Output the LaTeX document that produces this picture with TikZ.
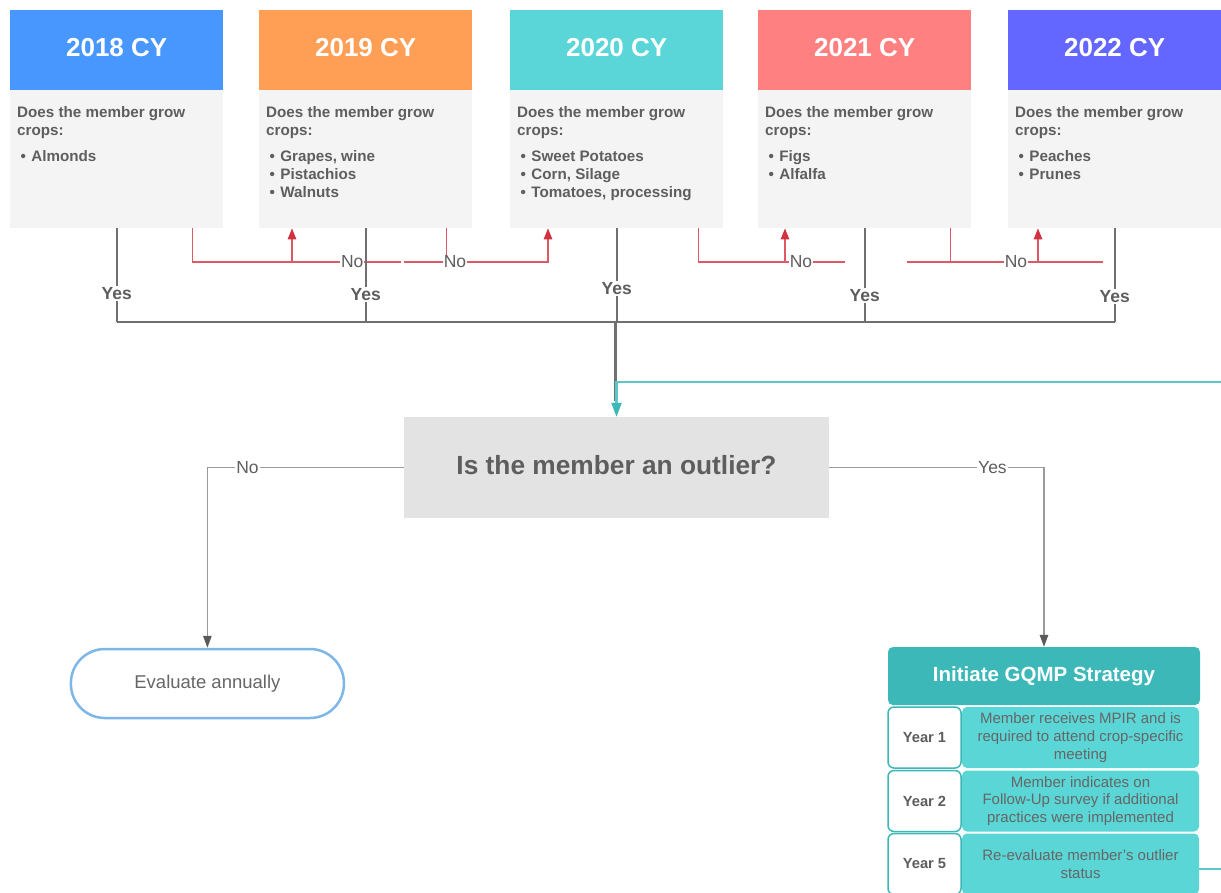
\documentclass[tikz,border=0pt]{standalone}
\usepackage{fontspec}
\setmainfont{Liberation Sans}
\usetikzlibrary{arrows.meta,calc}

\definecolor{txt}{HTML}{5E5E5E}
\definecolor{desctxt}{HTML}{666666}
\definecolor{c18}{HTML}{4797FF}
\definecolor{c19}{HTML}{FF9E55}
\definecolor{c20}{HTML}{5AD6D8}
\definecolor{c21}{HTML}{FF8080}
\definecolor{c22}{HTML}{6366FF}
\definecolor{bodyfill}{HTML}{F4F4F4}
\definecolor{yesgray}{HTML}{707070}
\definecolor{redline}{HTML}{DB5A66}
\definecolor{redtip}{HTML}{D2323F}
\definecolor{tealline}{HTML}{5CC8C8}
\definecolor{tealdk}{HTML}{3DB8B8}
\definecolor{teallt}{HTML}{5AD6D6}
\definecolor{qfill}{HTML}{E3E3E3}
\definecolor{thingray}{HTML}{9A9A9A}
\definecolor{arrdk}{HTML}{5A5A5A}
\definecolor{evblue}{HTML}{7DB7E8}

\newcommand{\cropbul}{\hspace*{3.5pt}\textbullet\hspace{5.4pt}}

\begin{document}
\begin{tikzpicture}[x=1pt,y=-1pt,
  hdr/.style={rectangle, anchor=north west, minimum width=213pt, minimum height=80pt,
    inner sep=0pt, text=white, font=\fontsize{26}{30}\selectfont\bfseries, text depth=6pt},
  bodybox/.style={rectangle, anchor=north west, minimum width=213pt, minimum height=138pt,
    inner sep=0pt, fill=bodyfill},
  bodytxt/.style={anchor=north west, align=left, inner sep=0pt, text=txt,
    font=\fontsize{15.2}{18.3}\selectfont\bfseries},
  yesln/.style={draw=yesgray, line width=2pt},
  yeslab/.style={fill=white, inner sep=1.5pt, text=txt, font=\fontsize{17.5}{20}\selectfont\bfseries},
  redln/.style={draw=redline, line width=1.3pt},
  redarr/.style={redln, -{Triangle[length=11pt,width=8.5pt,color=redtip]}},
  nolab/.style={fill=white, inner sep=1pt, text=txt, font=\fontsize{17.5}{20}\selectfont},
  thinln/.style={draw=thingray, line width=1.3pt, -{Triangle[length=12pt,width=8.5pt,color=arrdk]}},
  thinlab/.style={fill=white, inner sep=1pt, text=txt, font=\fontsize{17.5}{20}\selectfont},
  tealpath/.style={draw=tealline, line width=2.2pt, -{Triangle[length=14pt,width=10pt,color=tealdk]}},
  qbox/.style={rectangle, fill=qfill, minimum width=425pt, minimum height=101pt, inner sep=0pt,
    text=txt, font=\fontsize{26.3}{30}\selectfont\bfseries, text depth=5pt},
  evnode/.style={rectangle, rounded corners=34pt, draw=evblue, line width=2.5pt, fill=white,
    minimum width=273pt, minimum height=69pt, inner sep=0pt, text=desctxt,
    font=\fontsize{18.5}{22}\selectfont},
  gqhdr/.style={rectangle, rounded corners=5pt, fill=tealdk, minimum width=312pt,
    minimum height=58pt, inner sep=0pt, text=white, font=\fontsize{20.5}{24}\selectfont\bfseries},
  yearcell/.style={rectangle, rounded corners=6pt, draw=tealdk, line width=1.5pt, fill=white,
    minimum width=73pt, minimum height=61pt, inner sep=0pt, text=txt,
    font=\fontsize{14.7}{18}\selectfont\bfseries},
  desccell/.style={rectangle, rounded corners=5pt, fill=teallt, minimum width=237pt,
    minimum height=61pt, inner sep=0pt, align=center, text=desctxt,
    font=\fontsize{15}{17.8}\selectfont}
]
\fill[white] (0,0) rectangle (1221,892);
\useasboundingbox (0,0) rectangle (1221,892);

% ---- year boxes ----
\node[hdr, fill=c18] (h1) at (10,10) {2018 CY};
\node[hdr, fill=c19] (h2) at (259,10) {2019 CY};
\node[hdr, fill=c20] (h3) at (510,10) {2020 CY};
\node[hdr, fill=c21] (h4) at (758,10) {2021 CY};
\node[hdr, fill=c22] (h5) at (1008,10) {2022 CY};

\node[bodybox] (b1) at (10,90) {};
\node[bodybox] (b2) at (259,90) {};
\node[bodybox] (b3) at (510,90) {};
\node[bodybox] (b4) at (758,90) {};
\node[bodybox] (b5) at (1008,90) {};

\node[bodytxt] (t1) at (17,106) {Does the member grow\\crops:\\[7.3pt]\cropbul Almonds};
\node[bodytxt] (t2) at (266,106) {Does the member grow\\crops:\\[7.3pt]\cropbul Grapes, wine\\\cropbul Pistachios\\\cropbul Walnuts};
\node[bodytxt] (t3) at (517,106) {Does the member grow\\crops:\\[7.3pt]\cropbul Sweet Potatoes\\\cropbul Corn, Silage\\\cropbul Tomatoes, processing};
\node[bodytxt] (t4) at (765,106) {Does the member grow\\crops:\\[7.3pt]\cropbul Figs\\\cropbul Alfalfa};
\node[bodytxt] (t5) at (1015,106) {Does the member grow\\crops:\\[7.3pt]\cropbul Peaches\\\cropbul Prunes};

% ---- helper coordinates ----
\coordinate (ry) at (0,262);
\coordinate (bus) at (0,321.5);
\coordinate (join) at (0,382);
\coordinate (graystop) at (0,401);

% ---- red "No" connectors ----
\coordinate (r1s) at ([xshift=-31pt]b1.south east);
\coordinate (r1e) at (401,262);
\coordinate (r1a) at ([xshift=33pt]b2.south west);
\draw[redln] (r1s) |- node[nolab,pos=.883]{No} (r1e);
\draw[redarr] (r1a |- ry) -- (r1a);

\coordinate (r2s) at (404,262);
\coordinate (r2a) at ([xshift=38pt]b3.south west);
\coordinate (r2d) at ([xshift=-26pt]b2.south east);
\draw[redln] (r2d) -- (r2d |- ry);
\draw[redarr] (r2s) -| node[nolab,pos=.177]{No} (r2a);

\coordinate (r3s) at ([xshift=-25pt]b3.south east);
\coordinate (r3e) at (845,262);
\coordinate (r3a) at ([xshift=27pt]b4.south west);
\draw[redarr] (r3a |- ry) -- (r3a);
\draw[redln] (r3s) |- node[nolab,pos=.85]{No} (r3e);

\coordinate (r4s) at (907,262);
\coordinate (r4e) at (1103,262);
\coordinate (r4d) at ([xshift=-21pt]b4.south east);
\coordinate (r4a) at ([xshift=30pt]b5.south west);
\draw[redln] (r4d) -- (r4d |- ry);
\draw[redarr] (r4a |- ry) -- (r4a);
\draw[redln] (r4s) -- node[nolab,pos=.556]{No} (r4e);

% ---- gray "Yes" connectors ----
\draw[yesln] (b1.south |- bus) -- (b5.south |- bus);
\draw[yesln] (b1.south) -- node[yeslab,pos=.70]{Yes} (b1.south |- bus);
\draw[yesln] (b2.south) -- node[yeslab,pos=.71]{Yes} (b2.south |- bus);
\draw[yesln] (b4.south) -- node[yeslab,pos=.72]{Yes} (b4.south |- bus);
\draw[yesln] (b5.south) -- node[yeslab,pos=.73]{Yes} (b5.south |- bus);
\draw[yesln] (b3.south) -- node[yeslab,pos=.642]{Yes} (b3.south |- bus);
\draw[yesln, line width=3pt] ([xshift=-1pt]b3.south |- bus) -- ([xshift=-1pt]b3.south |- graystop);

% ---- outlier decision ----
\node[qbox] (q) at (616.5,467.5) {Is the member an outlier?};

% ---- outcomes ----
\node[evnode] (ev) at (207.4,683.5) {Evaluate annually};

\node[gqhdr] (gq) at (1044,676) {Initiate GQMP Strategy};
\node[yearcell] (y1) at (924.5,737.5) {Year 1};
\node[yearcell] (y2) at (924.5,801) {Year 2};
\node[yearcell] (y3) at (924.5,864) {Year 5};
\node[desccell] (d1) at (1080.5,737.5) {Member receives MPIR and is\\required to attend crop-specific\\meeting};
\node[desccell] (d2) at (1080.5,801) {Member indicates on\\Follow-Up survey if additional\\practices were implemented};
\node[desccell] (d3) at (1080.5,864) {Re-evaluate member's outlier\\status};

\draw[thinln] (q.west) -| node[thinlab,pos=.398]{No} (ev.north);
\draw[thinln] (q.east) -| node[thinlab,pos=.38]{Yes} (gq.north);

% ---- loop back (teal) ----
\coordinate (loopc) at (1245,869);
\draw[tealpath] (d3.east |- loopc) -- (loopc) -- (loopc |- join) -- (q.north |- join) -- (q.north);
\end{tikzpicture}
\end{document}
